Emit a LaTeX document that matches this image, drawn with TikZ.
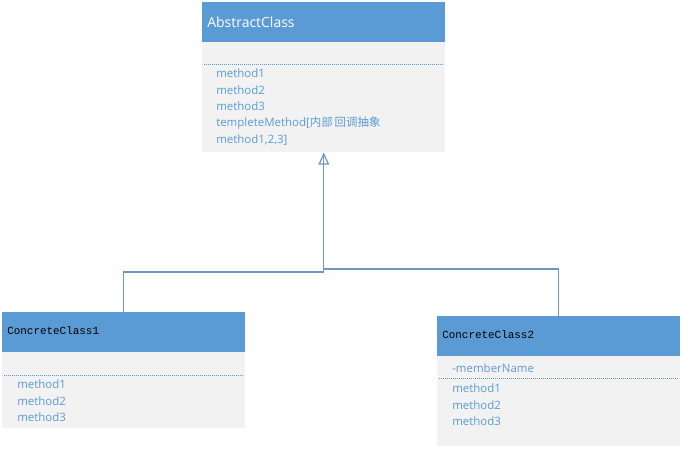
\documentclass[tikz,border=0pt]{standalone}
\usepackage{fontspec}
\setmainfont{Open Sans}
\setmonofont{Liberation Mono}
\newfontfamily\cjk{Noto Sans CJK SC}
\usetikzlibrary{arrows.meta}
\definecolor{hdr}{HTML}{5B9BD5}
\definecolor{bdy}{HTML}{F2F2F2}
\definecolor{txt}{HTML}{5B9BD5}
\definecolor{con}{HTML}{6F97C6}
\tikzset{
  hdrbox/.style={fill=hdr, draw=none, anchor=north west, minimum width=182.25pt, minimum height=30pt, inner sep=0pt},
  bdybox/.style={fill=bdy, draw=none, anchor=north west, minimum width=182.25pt, inner sep=0pt},
  titlesans/.style={anchor=west, inner sep=0pt, text=white, font=\fontsize{10.5}{12}\selectfont},
  titlemono/.style={anchor=west, inner sep=0pt, text=black, font=\ttfamily\fontsize{8.2}{10}\selectfont},
  items/.style={anchor=north west, inner sep=0pt, align=left, text=txt, font=\fontsize{8.6}{12.2}\selectfont},
  sep/.style={draw=txt, line width=0.5pt, dash pattern=on 0.75pt off 0.75pt},
  conn/.style={draw=con, line width=0.9pt},
}
\begin{document}
\begin{tikzpicture}[x=0.75pt, y=-0.75pt]
\useasboundingbox (0,0) rectangle (683,449);
% AbstractClass
\node[hdrbox] (absH) at (202,2) {};
\node[bdybox, minimum height=82.5pt] (absB) at (202,42) {};
\node[titlesans] (absT) at (207,22) {AbstractClass};
\draw[sep] (204,64) -- (443,64);
\node[items] (absM) at (216,69) {method1\\method2\\method3\\templeteMethod[{\cjk 内部\,回调抽象}\\method1,2,3]};
% ConcreteClass1
\node[hdrbox] (c1H) at (2,312) {};
\node[bdybox, minimum height=57pt] (c1B) at (2,352) {};
\node[titlemono] (c1T) at (7,331) {ConcreteClass1};
\draw[sep] (4,375) -- (243,375);
\node[items] (c1M) at (17,380) {method1\\method2\\method3};
% ConcreteClass2
\node[hdrbox] (c2H) at (437,316) {};
\node[bdybox, minimum height=67.5pt] (c2B) at (437,356) {};
\node[titlemono] (c2T) at (442,335) {ConcreteClass2};
\node[items] (c2A) at (452,364) {-memberName};
\draw[sep] (439,378) -- (678,378);
\node[items] (c2M) at (452,384) {method1\\method2\\method3};
% connectors
\draw[conn, -{Triangle[open, length=9pt, width=8pt]}] (c1H.north) -- ++(0,-40) -| (absB.south);
\draw[conn] (c2H.north) -- ++(0,-47) -| (absB.south);
\end{tikzpicture}
\end{document}
